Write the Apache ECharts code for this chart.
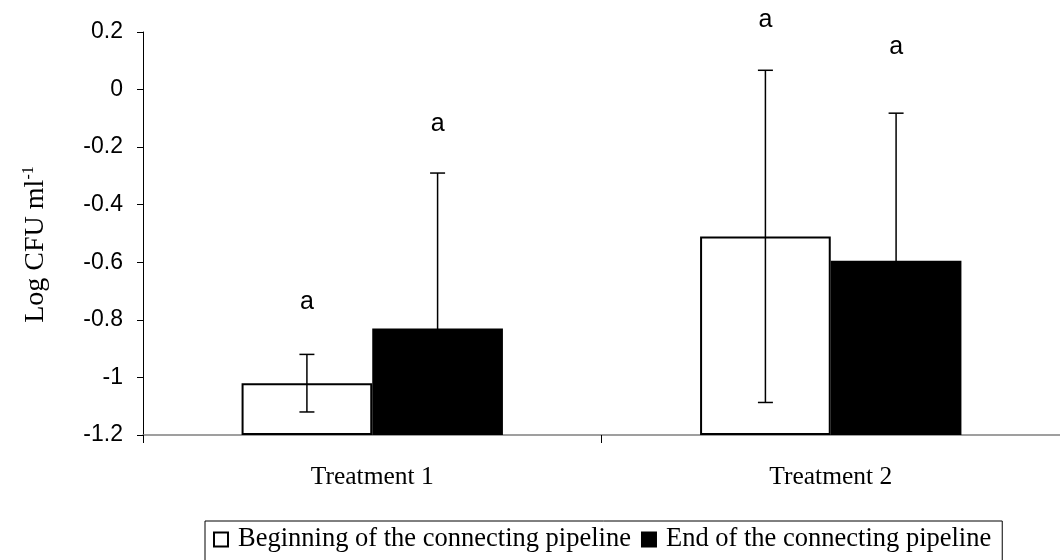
<!DOCTYPE html>
<html>
<head>
<meta charset="utf-8">
<script src="https://cdn.jsdelivr.net/npm/echarts@6/dist/echarts.min.js"></script>
<style>
  html, body { margin: 0; padding: 0; background: #fff; }
  #main { width: 1060px; height: 560px; }
</style>
</head>
<body>
<div id="main"></div>
<script>
var categories = ['Treatment 1', 'Treatment 2'];
var seriesNames = ['Beginning of the connecting pipeline', 'End of the connecting pipeline'];
var beginVals = [-1.02, -0.51];
var endVals = [-0.83, -0.595];
var beginErr = [0.10, 0.577];
var endErr = [0.54, 0.513];
// letters over each bar, and where they sit on the value scale
var beginLetters = ['a', 'a'];
var endLetters = ['a', 'a'];
var beginLetterAt = [-0.738, 0.242];
var endLetterAt = [-0.12, 0.148];
var yTicks = [-1.2, -1, -0.8, -0.6, -0.4, -0.2, 0, 0.2];

var serif = "'Liberation Serif', 'Times New Roman', serif";
var sans = "'Liberation Sans', Arial, sans-serif";
var catGap = 0.43;
var yMin = yTicks[0];

function errRows(vals, errs, letters, at) {
  return vals.map(function (v, i) { return [i, v, errs[i], letters[i], at[i]]; });
}

function makeErr(side) {
  return function (params, api) {
    var i = api.value(0), v = api.value(1), e = api.value(2);
    var band = api.size([1, 0])[0];
    var bw = band * (1 - catGap) / 2;
    var x = api.coord([i, v])[0] + side * bw / 2;
    var top = api.coord([i, v + e])[1];
    var low = Math.max(v - e, yMin);
    var bot = api.coord([i, low])[1];
    var ly = api.coord([i, api.value(4)])[1];
    var st = { stroke: '#000', lineWidth: 1.5 };
    var kids = [
      { type: 'line', shape: { x1: x, y1: top, x2: x, y2: bot }, style: st },
      { type: 'line', shape: { x1: x - 7.5, y1: top, x2: x + 7.5, y2: top }, style: st },
      { type: 'text', style: { text: api.value(3), x: x, y: ly, align: 'center', verticalAlign: 'middle',
          font: '25px ' + sans, fill: '#000' } }
    ];
    if (low > yMin) {
      kids.push({ type: 'line', shape: { x1: x - 7.5, y1: bot, x2: x + 7.5, y2: bot }, style: st });
    }
    return { type: 'group', children: kids };
  };
}

var chart = echarts.init(document.getElementById('main'));
chart.setOption({
  animation: false,
  grid: { left: 143, top: 32, height: 403, width: 924, containLabel: false },
  legend: {
    data: seriesNames,
    top: 521, left: 205,
    orient: 'horizontal',
    borderColor: '#000', borderWidth: 1,
    padding: [5, 11, 30, 8],
    itemWidth: 14, itemHeight: 14, itemGap: 10,
    icon: 'rect',
    textStyle: { fontFamily: serif, fontSize: 26.5, color: '#000', padding: [0, 0, 0, 5] }
  },
  xAxis: {
    type: 'category',
    data: categories,
    axisLine: { onZero: false, lineStyle: { color: '#808080', width: 1.5 } },
    axisTick: { show: true, length: 8, lineStyle: { color: '#000' } },
    axisLabel: { fontFamily: serif, fontSize: 25.5, color: '#000', margin: 29 }
  },
  yAxis: {
    type: 'value',
    min: yMin, max: yTicks[yTicks.length - 1], interval: 0.2,
    startValue: yMin,
    splitLine: { show: false },
    axisLine: { show: true, onZero: false, lineStyle: { color: '#000', width: 1 } },
    axisTick: { show: true, length: 6, lineStyle: { color: '#000' } },
    axisLabel: {
      fontFamily: sans, fontSize: 23, color: '#000', margin: 20,
      formatter: function (v) { return String(+v.toFixed(1)); }
    },
    name: '{n|Log CFU ml}{s|-1}',
    nameLocation: 'middle',
    nameRotate: 90,
    nameGap: 92,
    nameTextStyle: {
      padding: [0, 22, 0, 0],
      rich: {
        n: { fontFamily: serif, fontSize: 28, color: '#000' },
        s: { fontFamily: serif, fontSize: 16, color: '#000', verticalAlign: 'top', padding: [0, 0, 14, 0] }
      }
    }
  },
  series: [
    {
      name: seriesNames[0], type: 'bar', data: beginVals,
      barGap: '0%', barCategoryGap: (catGap * 100) + '%',
      itemStyle: { color: '#fff', borderColor: '#000', borderWidth: 2 }
    },
    {
      name: seriesNames[1], type: 'bar', data: endVals,
      barGap: '0%', barCategoryGap: (catGap * 100) + '%',
      itemStyle: { color: '#000', borderColor: '#000', borderWidth: 2 }
    },
    {
      type: 'custom', renderItem: makeErr(-1), z: 5, clip: false,
      data: errRows(beginVals, beginErr, beginLetters, beginLetterAt)
    },
    {
      type: 'custom', renderItem: makeErr(1), z: 5, clip: false,
      data: errRows(endVals, endErr, endLetters, endLetterAt)
    }
  ]
});
</script>
</body>
</html>
